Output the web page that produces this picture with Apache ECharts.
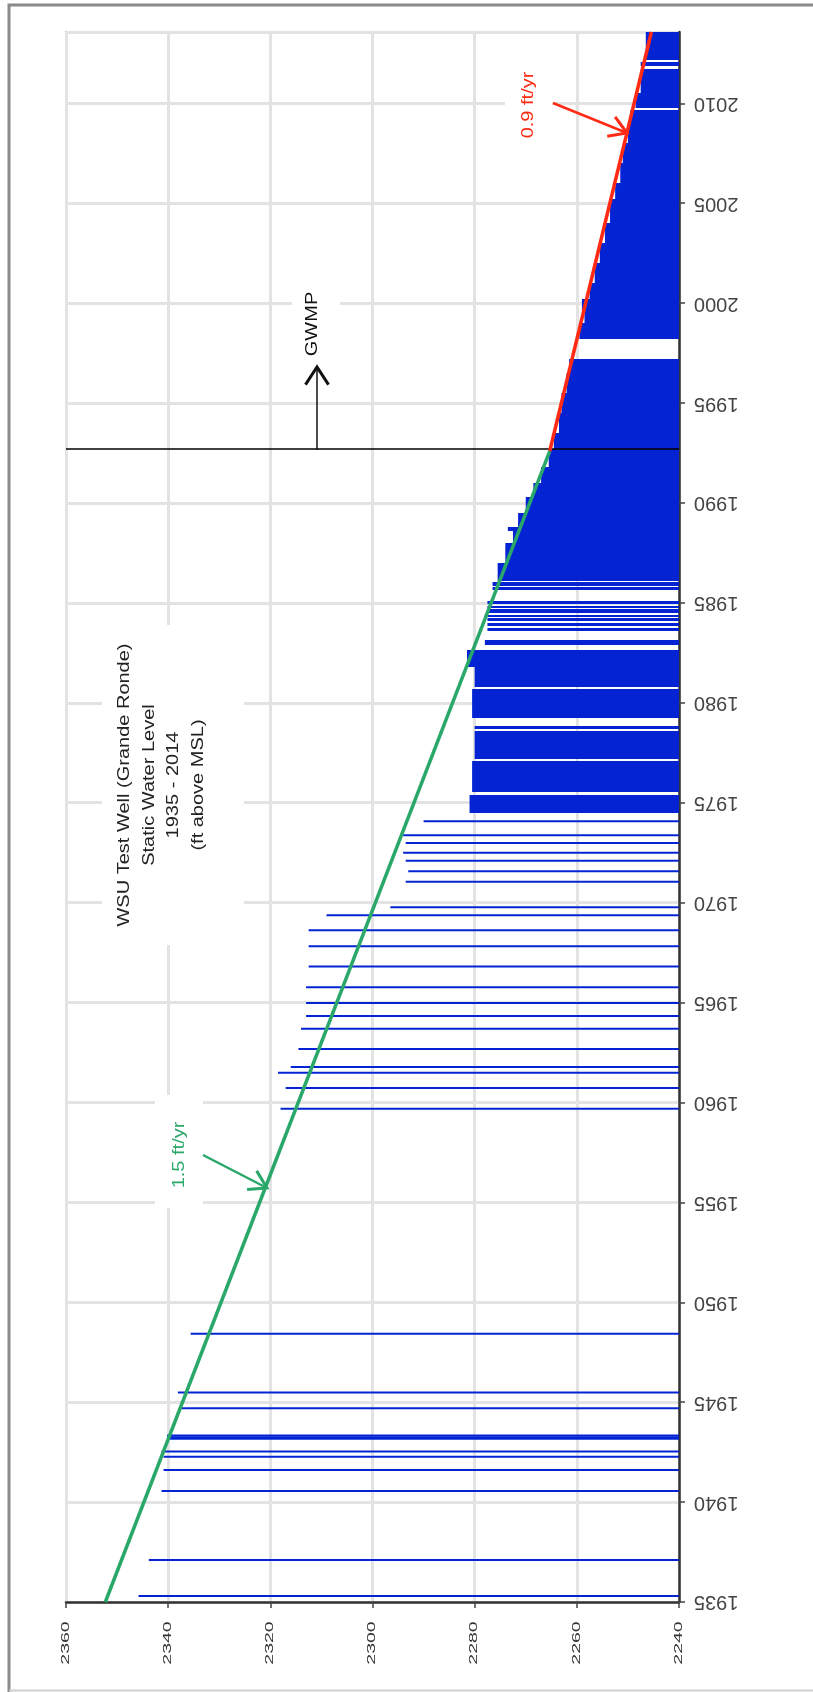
<!DOCTYPE html>
<html><head><meta charset="utf-8">
<script src="https://cdn.jsdelivr.net/npm/echarts@6/dist/echarts.min.js"></script>
<style>html,body{margin:0;padding:0;background:#fff}#c{width:813px;height:1692px}</style>
</head><body><div id="c"></div>
<script>
// ---------- data ----------
const yearTicks = [1935,1940,1945,1950,1955,1960,1965,1970,1975,1980,1985,1990,1995,2000,2005,2010];
const levelTicks = [2240,2260,2280,2300,2320,2340,2360];
const yearMin = 1935, yearMax = 2013.57;
const levelMin = 2240, levelMax = 2360;

// individual (sparse) measurements: decimal year and static water level (ft above MSL)
const sparseYears  = [1935.3,1937.1,1940.55,1941.6,1942.27,1942.53,1943.17,1943.25,1943.33,1944.7,1945.49,1948.43,
  1959.69,1960.72,1961.49,1961.77,1962.67,1963.69,1964.33,1964.98,1965.77,1966.8,1967.82,1968.62,1969.37,1969.77,
  1971.05,1971.57,1972.09,1972.49,1972.99,1973.37,1974.07];
const sparseLevels = [2345.8,2343.8,2341.3,2340.9,2340.9,2341.3,2340.2,2340.2,2340.2,2337.7,2338.1,2335.6,
  2318.0,2317.0,2318.5,2316.0,2314.5,2314.0,2313.0,2313.0,2313.0,2312.5,2312.5,2312.5,2309.0,2296.5,
  2293.5,2293.0,2293.5,2294.0,2293.5,2294.0,2290.0];

// frequent measurements, grouped into runs: start year, end year, level
const denseStart = [1974.5,1975.53,1977.2,1978.7,1979.24,1980.8,1981.8,1982.9,1983.57,1983.82,1984.07,1984.29,1984.48,1984.73,1984.95,
  1985.63,1985.86,1986.1,1987,1988,1988.6,1988.8,1989.5,1990.3,1991,1991.8,1992.7,1993.5,1994.5,1995.5,1996.5,
  1998.23,1999,1999.5,2000.2,2001,2002,2003,2004,2004.6,2005.2,2006,2007,2008,2009,2009.78,2010.5,2011.85,2012.15];
const denseEnd   = [1975.4,1977.08,1978.6,1978.85,1980.7,1981.8,1982.62,1983.15,1983.74,1983.99,1984.22,1984.4,1984.68,1984.85,1985.07,
  1985.8,1986.04,1987,1988,1988.6,1988.8,1989.5,1990.3,1991,1991.8,1992.7,1993.5,1994.5,1995.5,1996.5,1997.2,
  1999,1999.5,2000.2,2001,2002,2003,2004,2004.6,2005.2,2006,2007,2008,2009,2009.65,2010.5,2011.7,2012.05,2013.57];
const denseLevels = [2281,2280.5,2280,2280,2280.5,2280,2281.5,2278,2277.5,2277.5,2277.5,2277.5,2277.5,2277.5,2277.5,
  2276.5,2276.5,2275.5,2274,2272.5,2273.5,2271.5,2270,2268.5,2267,2265.5,2264.5,2263.5,2263,2262,2261.5,
  2259.5,2258.5,2259,2257.5,2256.5,2255.5,2254.5,2253.5,2253.5,2252.5,2251.5,2251,2250,2249.5,2248.5,2247.5,2247.5,2246.5];

// trend lines
const trendOldYears = [1935, 1992.6], trendOldLevels = [2352.3, 2265.3];
const trendNewYears = [1992.6, 2013.57], trendNewLevels = [2265.3, 2245.4];
const gwmpYear = 1992.7;

// ---------- chart ----------
const BLUE = '#0424d4', GREEN = '#2aa86a', RED = '#ff2a14';
const chart = echarts.init(document.getElementById('c'), null, {renderer:'canvas'});

const sparseData = sparseYears.map((y,i)=>[sparseLevels[i], y]);
const denseData = denseStart.map((s,i)=>[denseLevels[i], s, denseEnd[i]]);

function renderSparse(params, api){
  const p = api.coord([api.value(0), api.value(1)]);
  const b = api.coord([levelMin, api.value(1)]);
  return {type:'rect', shape:{x:p[0], y:p[1]-1, width:b[0]-p[0], height:2}, style:{fill:BLUE}};
}
function renderDense(params, api){
  const a = api.coord([api.value(0), api.value(2)]);
  const b = api.coord([levelMin, api.value(1)]);
  const y0 = Math.round(a[1]), y1 = Math.round(b[1]);
  return {type:'rect', shape:{x:a[0], y:y0, width:b[0]-a[0], height:Math.max(1, y1-y0)},
    style:{fill:BLUE}};
}

function arrow(x1,y1,x2,y2,color,w,hl,ha,hw){
  const ang = Math.atan2(y2-y1, x2-x1);
  const p1 = [x2 - hl*Math.cos(ang-ha), y2 - hl*Math.sin(ang-ha)];
  const p2 = [x2 - hl*Math.cos(ang+ha), y2 - hl*Math.sin(ang+ha)];
  return [
    {type:'line', z:100, shape:{x1,y1,x2,y2}, style:{stroke:color, lineWidth:w}},
    {type:'polyline', z:100, shape:{points:[p1,[x2,y2],p2]}, style:{stroke:color, lineWidth:hw||w, fill:null}}
  ];
}
function vtext(txt, x, y, color, size, sx, lh){
  return {type:'text', z:100, x, y, rotation:Math.PI/2, scaleX:sx,
    style:{text:txt, fill:color, font: size+'px "Liberation Sans", Arial, sans-serif', align:'center', verticalAlign:'middle', lineHeight:lh||size}};
}
function box(x,y,w,h){ return {type:'rect', z:1, shape:{x,y,width:w,height:h}, style:{fill:'#fff'}}; }

const graphics = [
  {type:'polyline', z:100, shape:{points:[[9,1692],[9,5],[815,5]]}, style:{stroke:'#8a8a8a', lineWidth:3, fill:null}},
  {type:'line', z:100, shape:{x1:9,y1:1690.5,x2:813,y2:1690.5}, style:{stroke:'#cfcfcf', lineWidth:2}},
  box(102,625,142,320),
  box(155,1095,48,113),
  box(292,280,48,80),
  box(505,58,47,95),
  vtext('WSU Test Well (Grande Ronde)\nStatic Water Level\n1935 - 2014\n(ft above MSL)', 161.5, 785, '#222', 16, 1.25, 24.5),
  vtext('1.5 ft/yr', 180, 1155, GREEN, 16, 1.25),
  vtext('0.9 ft/yr', 528.5, 105, RED, 16, 1.25),
  vtext('GWMP', 313, 324, '#111', 16, 1.25),
  ...arrow(203,1155,267,1188,GREEN,2.5,20,0.55,3),
  ...arrow(553,103,627,133,RED,2.5,20,0.55,3),
  ...arrow(317,450,317,367,'#111',1.5,21,0.58,3)
];

chart.setOption({
  animation:false,
  backgroundColor:'#fff',
  grid:{left:66, top:32, width:613, height:1570, show:true, borderColor:'#b8b8b8', borderWidth:2},
  xAxis:{type:'value', min:levelMin, max:levelMax, interval:20, inverse:true, position:'bottom',
    axisLine:{show:true, onZero:false, lineStyle:{color:'#333', width:2.5}},
    axisTick:{show:true, length:6, lineStyle:{color:'#444', width:1.5}},
    axisLabel:{show:false},
    splitLine:{show:true, lineStyle:{color:'#e3e3e3', width:3}}},
  yAxis:{type:'value', min:yearMin, max:yearMax, interval:5, position:'right',
    axisLine:{show:true, onZero:false, lineStyle:{color:'#333', width:2.5}},
    axisTick:{show:true, length:6, lineStyle:{color:'#444', width:1.5}},
    axisLabel:{rotate:180, margin:15, fontSize:20, color:'#444', fontFamily:'Liberation Sans', showMaxLabel:false,
      formatter: v => yearTicks.includes(v) ? String(v) : ''},
    splitLine:{show:true, lineStyle:{color:'#e3e3e3', width:3}}},
  series:[
    {type:'custom', name:'sparse', renderItem:renderSparse, data:sparseData, z:3,
      dimensions:['level','year'], encode:{x:0, y:1},
      markLine:{silent:true, symbol:'none', label:{show:false}, lineStyle:{color:'#000', width:1.5, type:'solid'},
        data:[{yAxis:gwmpYear}]}},
    {type:'custom', name:'dense', renderItem:renderDense, data:denseData, z:3,
      dimensions:['level','start','end'], encode:{x:0, y:[1,2]}},
    {type:'line', name:'trend1', data:trendOldYears.map((y,i)=>[trendOldLevels[i], y]), symbol:'none', z:5,
      lineStyle:{color:GREEN, width:3.5}},
    {type:'line', name:'trend2', data:trendNewYears.map((y,i)=>[trendNewLevels[i], y]), symbol:'none', z:5,
      lineStyle:{color:RED, width:3.5}}
  ]
});

// value-axis tick labels (rotated, stretched along reading direction), placed through the axis scale
const axisBottom = chart.convertToPixel({yAxisIndex:0}, yearMin);
const levelLabels = levelTicks.map(v => ({
  type:'text', z:100, x: chart.convertToPixel({xAxisIndex:0}, v), y: axisBottom + 41,
  rotation:Math.PI/2, scaleX:1.95,
  style:{text:String(v), fill:'#333', font:'10px "Liberation Sans", Arial, sans-serif', align:'center', verticalAlign:'middle'}
}));
chart.setOption({graphic: graphics.concat(levelLabels)});
</script></body></html>
